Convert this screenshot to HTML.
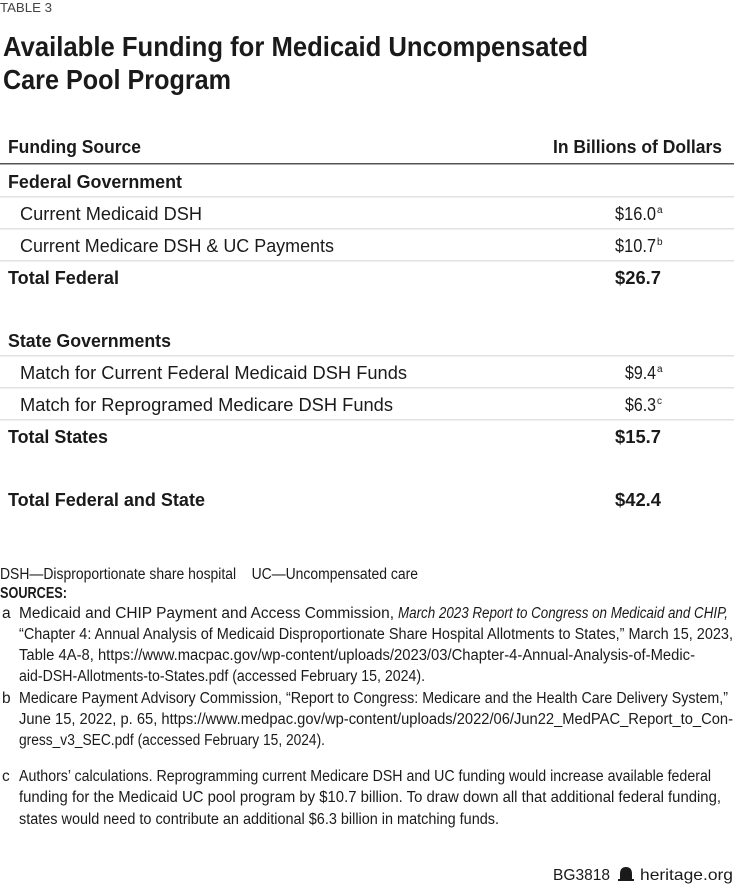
<!DOCTYPE html>
<html><head><meta charset="utf-8"><style>
html,body{margin:0;padding:0;background:#fff;}
svg{display:block;}
text{font-family:"Liberation Sans",sans-serif;fill:#1a1a1a;}
.b{font-weight:bold;}
.t{font-size:18px;}
.f{font-size:15.5px;}
</style></head><body>
<svg width="734" height="884" viewBox="0 0 734 884" xmlns="http://www.w3.org/2000/svg">
<text x="0" y="12" font-size="13" textLength="52" lengthAdjust="spacingAndGlyphs" style="fill:#444">TABLE 3</text>
<text class="b" x="3" y="56" font-size="28" textLength="585" lengthAdjust="spacingAndGlyphs">Available Funding for Medicaid Uncompensated</text>
<text class="b" x="3" y="89" font-size="28" textLength="228" lengthAdjust="spacingAndGlyphs">Care Pool Program</text>

<text class="t b" x="8" y="153" textLength="133" lengthAdjust="spacingAndGlyphs">Funding Source</text>
<text class="t b" x="553" y="153" textLength="169" lengthAdjust="spacingAndGlyphs">In Billions of Dollars</text>
<rect x="0" y="163" width="734" height="1.5" fill="#555"/>

<text class="t b" x="8" y="188" textLength="174" lengthAdjust="spacingAndGlyphs">Federal Government</text>
<rect x="0" y="196" width="734" height="1.5" fill="#e2e2e2"/>
<text class="t" x="20" y="220" textLength="182" lengthAdjust="spacingAndGlyphs">Current Medicaid DSH</text>
<text class="t" x="615" y="220" textLength="41" lengthAdjust="spacingAndGlyphs">$16.0</text>
<text x="657" y="213" font-size="10">a</text>
<rect x="0" y="228" width="734" height="1.5" fill="#e2e2e2"/>
<text class="t" x="20" y="252" textLength="314" lengthAdjust="spacingAndGlyphs">Current Medicare DSH &amp; UC Payments</text>
<text class="t" x="615" y="252" textLength="41" lengthAdjust="spacingAndGlyphs">$10.7</text>
<text x="657" y="245" font-size="10">b</text>
<rect x="0" y="260" width="734" height="1.5" fill="#e2e2e2"/>
<text class="t b" x="8" y="284" textLength="111" lengthAdjust="spacingAndGlyphs">Total Federal</text>
<text class="t b" x="615" y="284" textLength="46" lengthAdjust="spacingAndGlyphs">$26.7</text>

<text class="t b" x="8" y="347" textLength="163" lengthAdjust="spacingAndGlyphs">State Governments</text>
<rect x="0" y="355" width="734" height="1.5" fill="#e2e2e2"/>
<text class="t" x="20" y="379" textLength="387" lengthAdjust="spacingAndGlyphs">Match for Current Federal Medicaid DSH Funds</text>
<text class="t" x="625" y="379" textLength="31" lengthAdjust="spacingAndGlyphs">$9.4</text>
<text x="657" y="372" font-size="10">a</text>
<rect x="0" y="387" width="734" height="1.5" fill="#e2e2e2"/>
<text class="t" x="20" y="411" textLength="373" lengthAdjust="spacingAndGlyphs">Match for Reprogramed Medicare DSH Funds</text>
<text class="t" x="625" y="411" textLength="31" lengthAdjust="spacingAndGlyphs">$6.3</text>
<text x="657" y="404" font-size="10">c</text>
<rect x="0" y="419" width="734" height="1.5" fill="#e2e2e2"/>
<text class="t b" x="8" y="443" textLength="100" lengthAdjust="spacingAndGlyphs">Total States</text>
<text class="t b" x="615" y="443" textLength="46" lengthAdjust="spacingAndGlyphs">$15.7</text>

<text class="t b" x="8" y="506" textLength="197" lengthAdjust="spacingAndGlyphs">Total Federal and State</text>
<text class="t b" x="615" y="506" textLength="46" lengthAdjust="spacingAndGlyphs">$42.4</text>

<text class="f" x="0" y="579" textLength="418" lengthAdjust="spacingAndGlyphs" xml:space="preserve">DSH—Disproportionate share hospital    UC—Uncompensated care</text>
<text class="f b" x="0" y="598" textLength="67" lengthAdjust="spacingAndGlyphs">SOURCES:</text>

<text class="f" x="2" y="618">a</text>
<text class="f" x="19" y="618" textLength="375" lengthAdjust="spacingAndGlyphs">Medicaid and CHIP Payment and Access Commission,</text>
<text class="f" x="398" y="618" font-style="italic" textLength="330" lengthAdjust="spacingAndGlyphs">March 2023 Report to Congress on Medicaid and CHIP,</text>
<text class="f" x="19" y="639" textLength="714" lengthAdjust="spacingAndGlyphs">“Chapter 4: Annual Analysis of Medicaid Disproportionate Share Hospital Allotments to States,” March 15, 2023,</text>
<text class="f" x="19" y="660" textLength="676" lengthAdjust="spacingAndGlyphs">Table 4A-8, https://www.macpac.gov/wp-content/uploads/2023/03/Chapter-4-Annual-Analysis-of-Medic-</text>
<text class="f" x="19" y="681" textLength="406" lengthAdjust="spacingAndGlyphs">aid-DSH-Allotments-to-States.pdf (accessed February 15, 2024).</text>

<text class="f" x="2" y="703">b</text>
<text class="f" x="19" y="703" textLength="709" lengthAdjust="spacingAndGlyphs">Medicare Payment Advisory Commission, “Report to Congress: Medicare and the Health Care Delivery System,”</text>
<text class="f" x="19" y="724" textLength="714" lengthAdjust="spacingAndGlyphs">June 15, 2022, p. 65, https://www.medpac.gov/wp-content/uploads/2022/06/Jun22_MedPAC_Report_to_Con-</text>
<text class="f" x="19" y="745" textLength="306" lengthAdjust="spacingAndGlyphs">gress_v3_SEC.pdf (accessed February 15, 2024).</text>

<text class="f" x="2" y="781">c</text>
<text class="f" x="19" y="781" textLength="692" lengthAdjust="spacingAndGlyphs">Authors’ calculations. Reprogramming current Medicare DSH and UC funding would increase available federal</text>
<text class="f" x="19" y="802" textLength="702" lengthAdjust="spacingAndGlyphs">funding for the Medicaid UC pool program by $10.7 billion. To draw down all that additional federal funding,</text>
<text class="f" x="19" y="824" textLength="480" lengthAdjust="spacingAndGlyphs">states would need to contribute an additional $6.3 billion in matching funds.</text>

<text x="553" y="880" font-size="16" textLength="57" lengthAdjust="spacingAndGlyphs">BG3818</text>
<path d="M620 879 L620 874 Q620 867 626 867 Q632 867 632 874 L632 879 Z M618 879 h16 v2 h-16 Z" fill="#1a1a1a"/>
<text x="640" y="880" font-size="16" textLength="93" lengthAdjust="spacingAndGlyphs">heritage.org</text>
</svg>
</body></html>
